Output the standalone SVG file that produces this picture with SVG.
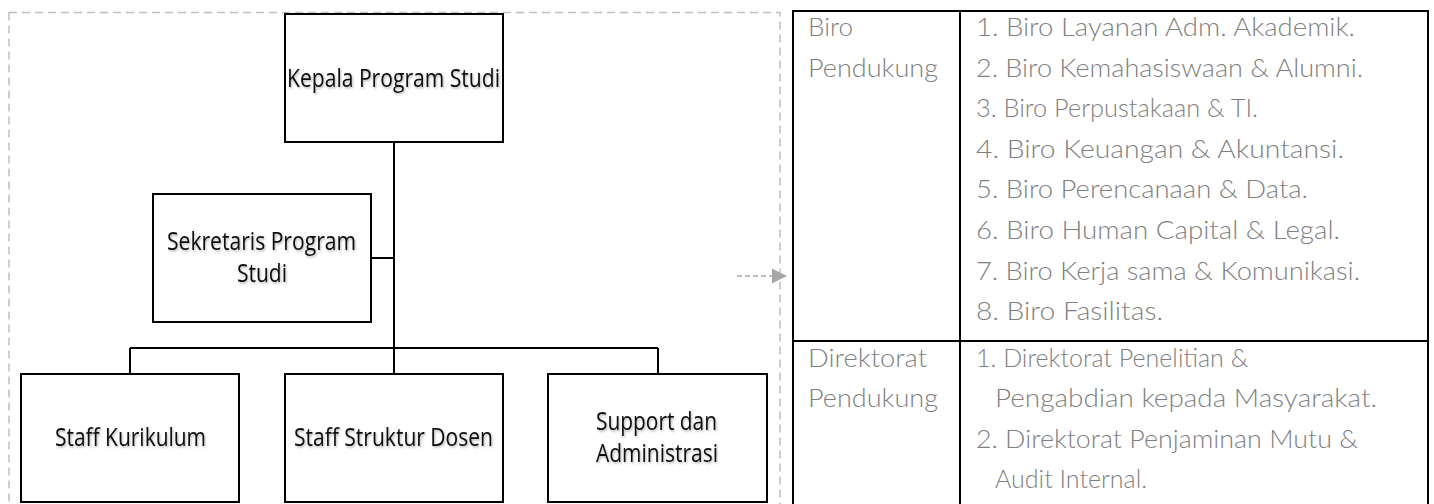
<svg xmlns="http://www.w3.org/2000/svg" width="1434" height="504" viewBox="0 0 1434 504">
<style>
.box{fill:#fff;stroke:#000;stroke-width:2}
.lbl{font-family:"Open Sans","Noto Sans",sans-serif;font-size:25px;fill:#111;filter:url(#sh)}
.conn{fill:none;stroke:#000;stroke-width:2}
.tb{font-family:Lato,"Open Sans",sans-serif;font-weight:300;font-size:25px;fill:#7f7f7f}
.grid{stroke:#000;stroke-width:2;fill:none}
</style>
<defs>
<filter id="sh" x="-10%" y="-30%" width="130%" height="160%">
<feDropShadow dx="1" dy="1.5" stdDeviation="1" flood-color="#000" flood-opacity="0.3"/>
</filter>
</defs>
<rect x="9" y="12.5" width="771" height="520" fill="none" stroke="#bfbfbf" stroke-width="1.5" stroke-dasharray="8,5"/>
<g id="connectors">
<path class="conn" d="M394,142 V348" stroke-width="3"/>
<path class="conn" d="M371,258 H394"/>
<path class="conn" d="M130,348 H658"/>
<path class="conn" d="M130,348 V374 M394,348 V374 M658,348 V374"/>
<path d="M737,276 H776" fill="none" stroke="#a6a6a6" stroke-width="1.5" stroke-dasharray="5,3"/>
<path d="M772,268.5 L787,276 L772,283.5 Z" fill="#a6a6a6"/>
</g>
<g id="kepala">
<rect class="box" x="285" y="14" width="218" height="128"/>
<text class="lbl" x="287" y="87" textLength="213" lengthAdjust="spacingAndGlyphs">Kepala Program Studi</text>
</g>
<g id="sekretaris">
<rect class="box" x="153" y="194" width="218" height="128"/>
<text class="lbl" x="167" y="250" textLength="189" lengthAdjust="spacingAndGlyphs">Sekretaris Program</text>
<text class="lbl" x="237" y="282" textLength="50" lengthAdjust="spacingAndGlyphs">Studi</text>
</g>
<g id="kurikulum">
<rect class="box" x="21" y="374" width="218" height="128"/>
<text class="lbl" x="55" y="446" textLength="151" lengthAdjust="spacingAndGlyphs">Staff Kurikulum</text>
</g>
<g id="struktur">
<rect class="box" x="285" y="374" width="218" height="128"/>
<text class="lbl" x="294" y="446" textLength="199" lengthAdjust="spacingAndGlyphs">Staff Struktur Dosen</text>
</g>
<g id="support">
<rect class="box" x="548" y="374" width="219" height="128"/>
<text class="lbl" x="596" y="430" textLength="121" lengthAdjust="spacingAndGlyphs">Support dan</text>
<text class="lbl" x="596" y="462" textLength="122" lengthAdjust="spacingAndGlyphs">Administrasi</text>
</g>
<g id="table">
<path class="grid" d="M793,520 V11 H1428 V520 M960,11 V520 M793,341 H1428"/>
<g id="biro">
<text class="tb" x="808" y="36" textLength="45" lengthAdjust="spacingAndGlyphs">Biro</text>
<text class="tb" x="808" y="77" textLength="130" lengthAdjust="spacingAndGlyphs">Pendukung</text>
<text class="tb" x="976" y="36" textLength="379" lengthAdjust="spacingAndGlyphs">1. Biro Layanan Adm. Akademik.</text>
<text class="tb" x="976" y="77" textLength="387" lengthAdjust="spacingAndGlyphs">2. Biro Kemahasiswaan &amp; Alumni.</text>
<text class="tb" x="976" y="117" textLength="282" lengthAdjust="spacingAndGlyphs">3. Biro Perpustakaan &amp; TI.</text>
<text class="tb" x="976" y="158" textLength="368" lengthAdjust="spacingAndGlyphs">4. Biro Keuangan &amp; Akuntansi.</text>
<text class="tb" x="976" y="198" textLength="332" lengthAdjust="spacingAndGlyphs">5. Biro Perencanaan &amp; Data.</text>
<text class="tb" x="976" y="239" textLength="364" lengthAdjust="spacingAndGlyphs">6. Biro Human Capital &amp; Legal.</text>
<text class="tb" x="976" y="280" textLength="384" lengthAdjust="spacingAndGlyphs">7. Biro Kerja sama &amp; Komunikasi.</text>
<text class="tb" x="976" y="320" textLength="187" lengthAdjust="spacingAndGlyphs">8. Biro Fasilitas.</text>
</g>
<g id="direktorat">
<text class="tb" x="808" y="367" textLength="119" lengthAdjust="spacingAndGlyphs">Direktorat</text>
<text class="tb" x="808" y="407" textLength="130" lengthAdjust="spacingAndGlyphs">Pendukung</text>
<text class="tb" x="976" y="367">1. Direktorat Penelitian &amp;</text>
<text class="tb" x="995" y="407" textLength="382" lengthAdjust="spacingAndGlyphs">Pengabdian kepada Masyarakat.</text>
<text class="tb" x="976" y="448" textLength="382" lengthAdjust="spacingAndGlyphs">2. Direktorat Penjaminan Mutu &amp;</text>
<text class="tb" x="995" y="488">Audit Internal.</text>
</g>
</g>
</svg>
